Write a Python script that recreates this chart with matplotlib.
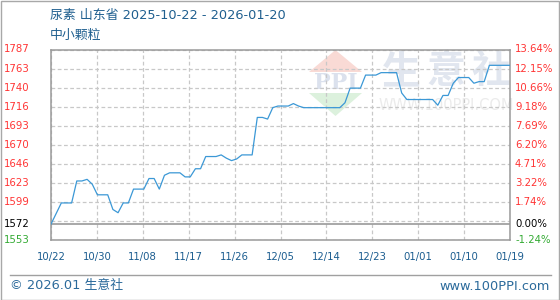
import matplotlib
matplotlib.use("Agg")
import matplotlib.pyplot as plt
import matplotlib.dates as mdates
from matplotlib.patches import Polygon, Rectangle
from matplotlib.lines import Line2D
from matplotlib.transforms import blended_transform_factory
import numpy as np
import pandas as pd

plt.rcParams['font.family'] = ['DejaVu Sans', 'Noto Sans CJK SC']

# ---------------- data ----------------
title_text = "尿素 山东省 2025-10-22 - 2026-01-20"
subtitle_text = "中小颗粒"

dates = ['2025-10-22', '2025-10-24', '2025-10-26', '2025-10-27', '2025-10-28',
         '2025-10-29', '2025-10-30', '2025-10-31', '2025-11-02', '2025-11-03',
         '2025-11-04', '2025-11-05', '2025-11-06', '2025-11-07', '2025-11-09',
         '2025-11-10', '2025-11-11', '2025-11-12', '2025-11-13', '2025-11-14',
         '2025-11-16', '2025-11-17', '2025-11-18', '2025-11-19', '2025-11-20',
         '2025-11-21', '2025-11-23', '2025-11-24', '2025-11-25', '2025-11-26',
         '2025-11-27', '2025-11-28', '2025-11-30', '2025-12-01', '2025-12-02',
         '2025-12-03', '2025-12-04', '2025-12-05', '2025-12-07', '2025-12-08',
         '2025-12-09', '2025-12-10', '2025-12-17', '2025-12-18', '2025-12-19',
         '2025-12-21', '2025-12-22', '2025-12-24', '2025-12-25', '2025-12-28',
         '2025-12-29', '2025-12-30', '2026-01-04', '2026-01-05', '2026-01-06',
         '2026-01-07', '2026-01-08', '2026-01-09', '2026-01-11', '2026-01-12',
         '2026-01-13', '2026-01-14', '2026-01-15', '2026-01-19']
prices = [1572, 1598, 1598, 1625, 1625,
          1627, 1621, 1608, 1608, 1590,
          1586, 1598, 1598, 1615, 1615,
          1628, 1628, 1615, 1632, 1635,
          1635, 1630, 1630, 1640, 1640,
          1655, 1655, 1657, 1653, 1650,
          1652, 1657, 1657, 1703, 1703,
          1701, 1715, 1717, 1717, 1720,
          1717, 1715, 1715, 1721, 1739,
          1739, 1755, 1755, 1758, 1758,
          1733, 1725, 1725, 1718, 1730,
          1730, 1745, 1752, 1752, 1745,
          1747, 1747, 1767, 1767]

base_price = 1572
left_labels = ['1787', '1763', '1740', '1716', '1693', '1670', '1646', '1623', '1599', '1572', '1553']
right_pcts = [13.64, 12.15, 10.66, 9.18, 7.69, 6.20, 4.71, 3.22, 1.74, 0.00, -1.24]
x_labels = ['10/22', '10/30', '11/08', '11/17', '11/26', '12/05', '12/14', '12/23', '01/01', '01/10', '01/19']
footer_left = "© 2026.01 生意社"
footer_right = "www.100PPI.com"

# ---------------- figure ----------------
W, H = 560, 300
fig = plt.figure(figsize=(W / 100, H / 100), dpi=100)
fig.patch.set_facecolor('white')

def fx(x):
    return x / W

def fy(y):
    return 1 - y / H

ax_l, ax_r, ax_t, ax_b = 51, 510, 49.5, 240
ax = fig.add_axes([fx(ax_l), fy(ax_b), fx(ax_r) - fx(ax_l), (ax_b - ax_t) / H])
ax.set_facecolor('none')
ax.set_zorder(2)

d = pd.to_datetime(dates)
xnum = mdates.date2num(d)
ymin = base_price * (1 + right_pcts[-1] / 100)
ymax = base_price * (1 + right_pcts[0] / 100)
ax.set_xlim(xnum[0], xnum[-1])
ax.set_ylim(ymin, ymax)

# grid
gx = np.linspace(xnum[0], xnum[-1], len(x_labels))
gy = np.linspace(ymin, ymax, len(left_labels))
ax.set_xticks(gx)
ax.set_yticks(gy)
ax.tick_params(length=0, labelleft=False, labelbottom=False)
ax.grid(True, color='#c8c8c8', linestyle=(0, (3, 2)), linewidth=0.9)
ax.set_axisbelow(True)
for s in ax.spines.values():
    s.set_color('#9a9a9a')
    s.set_linewidth(1.1)

# watermark (figure level, behind axes content)
wm_color = '#e1e6ef'
for ch, cx in zip("生意社", [401, 446, 491]):
    fig.text(fx(cx), fy(72), ch, fontsize=28, fontweight='bold', color=wm_color,
             family=['Noto Sans CJK SC'], ha='center', va='center', zorder=0)
fig.text(fx(446), fy(106), "WWW.100PPI.COM", fontsize=10.5, color='#ebebeb',
         ha='center', va='center', zorder=0)
fig.patches.append(Polygon([[fx(309), fy(72)], [fx(362), fy(72)], [fx(335.5), fy(50)]],
                           closed=True, transform=fig.transFigure,
                           facecolor='#f9dad5', edgecolor='none', zorder=0))
fig.patches.append(Polygon([[fx(309), fy(93)], [fx(362), fy(93)], [fx(335.5), fy(116)]],
                           closed=True, transform=fig.transFigure,
                           facecolor='#dcf1dd', edgecolor='none', zorder=0))
fig.text(fx(336), fy(83), "PPI", fontsize=16, fontweight='bold', color='#dbe1ed',
         ha='center', va='center', family=['DejaVu Serif'], zorder=0)

# baseline
ax.axhline(base_price, color='#9a9a9a', linewidth=1.2, zorder=2)

# series
ax.plot(xnum, prices, color='#3b98d6', linewidth=0.9, zorder=3)

# y labels
tr = blended_transform_factory(fig.transFigure, ax.transData)
ypos = [base_price * (1 + p / 100) for p in right_pcts]
for lab, p, yv in zip(left_labels, right_pcts, ypos):
    if p > 0:
        c = '#ff3333'
    elif p == 0:
        c = '#000000'
    else:
        c = '#33aa33'
    ax.text(fx(4), yv, lab, transform=tr, ha='left', va='center', fontsize=7.3, color=c)
    ax.text(fx(515), yv, f"{p:.2f}%", transform=tr, ha='left', va='center', fontsize=7.3, color=c)

# x labels
trx = blended_transform_factory(ax.transData, fig.transFigure)
for lab, xv in zip(x_labels, gx):
    ax.text(xv, fy(257), lab, transform=trx, ha='center', va='center', fontsize=7.3, color='#1a5c8f')

# titles
fig.text(fx(50), fy(16), title_text, fontsize=9.3, color='#1f5f8f', ha='left', va='center')
fig.text(fx(50), fy(35), subtitle_text, fontsize=9.3, color='#1f5f8f', ha='left', va='center')

# footer
fig.lines.append(Line2D([fx(10), fx(551)], [fy(275), fy(275)], transform=fig.transFigure,
                        color='#a0a0a0', linewidth=1.0))
fig.text(fx(10), fy(286), footer_left, fontsize=9.3, color='#2b6a9b', ha='left', va='center')
fig.text(fx(550), fy(286), footer_right, fontsize=9.3, color='#2b6a9b', ha='right', va='center')

# outer border
fig.patches.append(Rectangle((0.5 / W, 0.5 / H), 1 - 1.5 / W, 1 - 1.5 / H, transform=fig.transFigure,
                             facecolor='none', edgecolor='#a8a8a8', linewidth=1.0))

fig.savefig('out.png', dpi=100)
